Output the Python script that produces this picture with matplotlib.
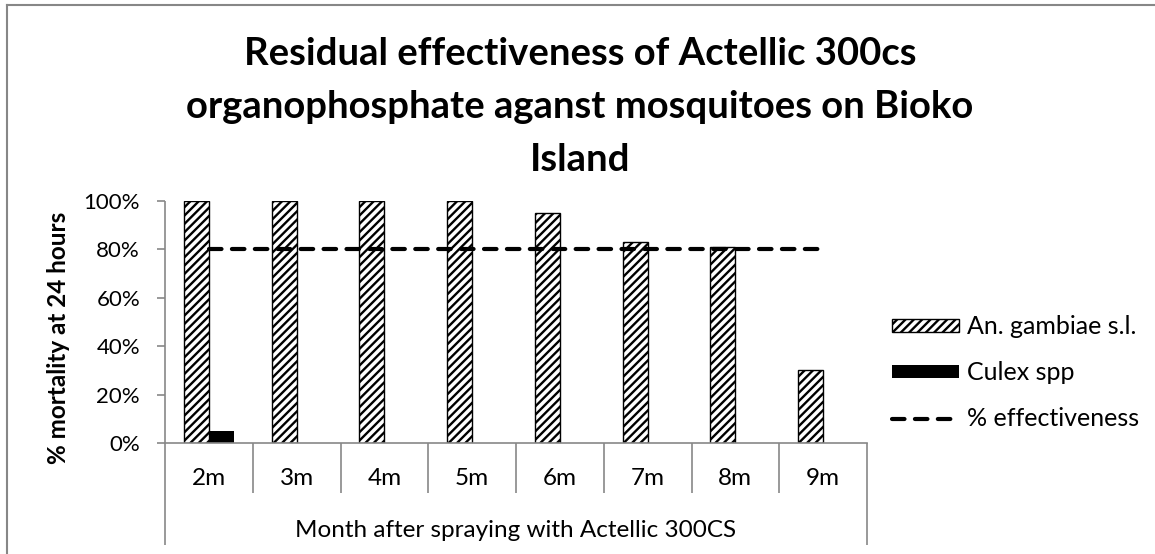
import matplotlib
matplotlib.use("Agg")
import matplotlib.pyplot as plt
from matplotlib.lines import Line2D
from matplotlib.patches import Patch
import numpy as np

plt.rcParams["font.family"] = ["Lato", "DejaVu Sans"]
plt.rcParams["hatch.linewidth"] = 1.7

months = ["2m", "3m", "4m", "5m", "6m", "7m", "8m", "9m"]
gambiae = [100, 100, 100, 100, 95, 83, 81, 30]
culex = [5, 0, 0, 0, 0, 0, 0, 0]
effectiveness = [80, 80, 80, 80, 80, 80, 80, 80]

title = "Residual effectiveness of Actellic 300cs\norganophosphate aganst mosquitoes on Bioko\nIsland"
grey = "#878787"

fig = plt.figure(figsize=(11.55, 5.54), dpi=100)
ax = fig.add_axes([165 / 1155, 1 - 443 / 554, 702 / 1155, 242 / 554])

x = np.arange(len(months))
w = 0.285
ax.bar(x - w / 2, np.array(gambiae) / 100, w, facecolor="white", edgecolor="black",
       hatch="////", linewidth=1.0, label="An. gambiae s.l.")
ax.bar(x + w / 2, np.array(culex) / 100, w, color="black", linewidth=0, label="Culex spp")
ax.plot(x, np.array(effectiveness) / 100, color="black", lw=3, dashes=(3, 2.5),
        dash_capstyle="round", label="% effectiveness")

ax.set_xlim(-0.5, len(months) - 0.5)
ax.set_ylim(0, 1)
for s in ax.spines.values():
    s.set_visible(False)
ax.set_yticks(np.linspace(0, 1, 6))
ax.set_yticklabels([f"{int(v)}%" for v in np.linspace(0, 100, 6)], fontsize=16)
ax.tick_params(axis="y", length=6, width=1.2, color=grey, pad=12)
ax.set_xticks([])

# axis lines and category box
tr = ax.get_xaxis_transform()
ax.plot([-0.5, len(months) - 0.5], [0, 0], color=grey, lw=1.2, transform=tr, clip_on=False)
ax.vlines([-0.5, len(months) - 0.5], -0.4215, [1, 0], color=grey, lw=1.2, transform=tr, clip_on=False)
ax.vlines(np.arange(len(months) - 1) + 0.5, -0.2066, 0, color=grey, lw=1.2, transform=tr, clip_on=False)
for xi, m in zip(x, months):
    ax.text(xi, -0.145, m, transform=tr, ha="center", va="center", fontsize=17.5)
ax.text(0.5, -0.36, "Month after spraying with Actellic 300CS", transform=ax.transAxes,
        ha="center", va="center", fontsize=17.5)

fig.text(58 / 1155, 1 - 338 / 554, "% mortality at 24 hours", rotation=90, ha="center",
         va="center", fontsize=17.5, fontweight="bold")
fig.text(580 / 1155, 1 - 107 / 554, title, ha="center", va="center", fontsize=27.5,
         fontweight="bold", linespacing=1.68)

handles = [Patch(facecolor="white", edgecolor="black", hatch="////", linewidth=1.0),
           Patch(facecolor="black", linewidth=0),
           Line2D([0], [0], color="black", lw=3, dashes=(3, 2.5), dash_capstyle="round")]
labels = ["An. gambiae s.l.", "Culex spp", "% effectiveness"]
fig.legend(handles, labels, loc="center left", bbox_to_anchor=(892 / 1155, 1 - 373 / 554),
           frameon=False, fontsize=18, handlelength=2.68, handleheight=0.45,
           labelspacing=0.92, handletextpad=0.32, borderpad=0, borderaxespad=0)

# outer chart border (top and left visible)
fig.add_artist(Line2D([7 / 1155, 7 / 1155], [0, 1 - 5 / 554], color=grey, lw=1.5))
fig.add_artist(Line2D([7 / 1155, 1], [1 - 5 / 554, 1 - 5 / 554], color=grey, lw=1.5))

fig.savefig("out.png", dpi=100)
